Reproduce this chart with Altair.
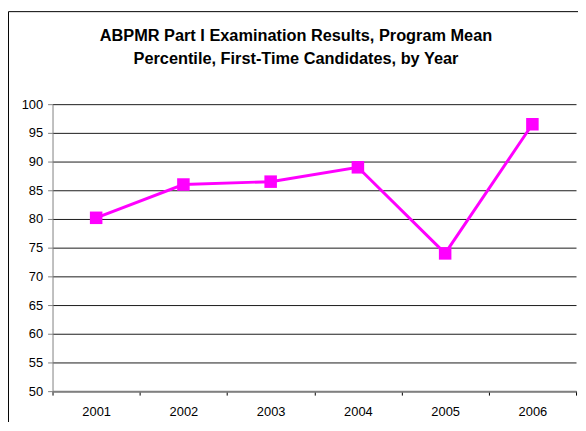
import altair as alt
import pandas as pd

years = ["2001", "2002", "2003", "2004", "2005", "2006"]
values = [80.2, 86.0, 86.5, 89.0, 74.0, 96.5]
y_ticks = [50, 55, 60, 65, 70, 75, 80, 85, 90, 95, 100]
title_lines = ["ABPMR Part I Examination Results, Program Mean",
               "Percentile, First-Time Candidates, by Year"]

df = pd.DataFrame({"year": years, "value": values})
FONT = "Arial, Liberation Sans, sans-serif"

base = alt.Chart(df).encode(
    x=alt.X("year:N", sort=years,
            scale=alt.Scale(paddingInner=0, paddingOuter=0),
            axis=alt.Axis(title=None, labelAngle=0, grid=False,
                          domainColor="#808080", domainWidth=2,
                          tickColor="#000000", tickSize=4, tickWidth=1,
                          tickBand="extent", labelFont=FONT,
                          labelFontSize=13, labelColor="#000000",
                          labelPadding=11)),
    y=alt.Y("value:Q",
            scale=alt.Scale(domain=[50, 100], nice=False, zero=False),
            axis=alt.Axis(title=None, values=y_ticks, grid=True,
                          gridColor="#1a1a1a", gridWidth=1,
                          domainColor="#808080", domainWidth=1,
                          tickColor="#808080", tickSize=5,
                          labelFont=FONT, labelFontSize=13,
                          labelColor="#000000", labelPadding=5)),
)

line = base.mark_line(color="#FF00FF", strokeWidth=3)
points = base.mark_point(shape="square", filled=True, size=160,
                         color="#FF00FF", opacity=1)

frame = alt.Chart(alt.Data(values=[{}])).mark_rect(
    fill=None, stroke="#000000", strokeWidth=1
).encode(
    x=alt.value(-44.5), x2=alt.value(700),
    y=alt.value(-93.5), y2=alt.value(600),
)

title = alt.Chart(alt.Data(values=[{}])).mark_text(
    font=FONT, fontSize=16.5, fontWeight="bold", color="#000000",
    align="center", baseline="alphabetic", lineHeight=23,
).encode(
    x=alt.value(246), y=alt.value(-64), text=alt.value(title_lines),
)

chart = alt.layer(line, points, frame, title).properties(
    width=529, height=290,
    autosize=alt.AutoSizeParams(type="none"),
    padding={"left": 45, "top": 95, "right": 2, "bottom": 29},
    background="white",
).configure_view(stroke=None)

chart.save("out.html", embed_options={"renderer": "svg", "actions": False})
